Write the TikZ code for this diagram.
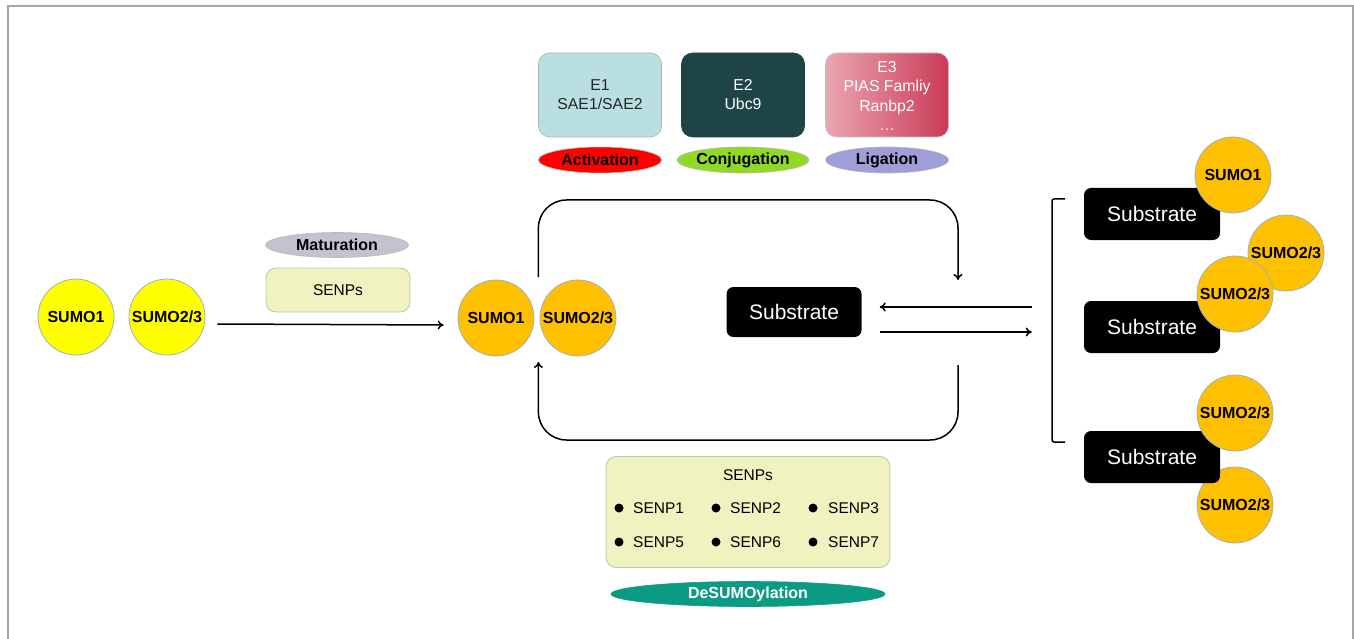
\documentclass[tikz,border=0pt]{standalone}
\usepackage{fontspec}
\setmainfont{Liberation Sans}
\usetikzlibrary{arrows.meta,shapes.geometric,calc}
\definecolor{sumoY}{HTML}{FFFF00}
\definecolor{sumoO}{HTML}{FFC000}
\definecolor{edgeC}{HTML}{9DB1C6}
\definecolor{frameC}{HTML}{A6A6A6}
\definecolor{eone}{HTML}{B9DFE2}
\definecolor{etwo}{HTML}{1E4447}
\definecolor{ethreeL}{HTML}{EAA6B1}
\definecolor{ethreeR}{HTML}{CB3A57}
\definecolor{actC}{HTML}{FF0000}
\definecolor{conjC}{HTML}{92D925}
\definecolor{ligC}{HTML}{A09ED8}
\definecolor{matC}{HTML}{C3C3CF}
\definecolor{senpC}{HTML}{F0F3C0}
\definecolor{senpE}{HTML}{B9C9A6}
\definecolor{desC}{HTML}{0B9A82}
\begin{document}
\begin{tikzpicture}[x=1pt,y=-1pt,
  ysumo/.style={circle, fill=sumoY, draw=edgeC, line width=0.8pt, minimum size=76pt, inner sep=0pt, font=\fontsize{16}{18}\selectfont\bfseries},
  osumo/.style={ysumo, fill=sumoO},
  subbox/.style={rectangle, rounded corners=7pt, fill=black, text=white, minimum width=136pt, minimum height=52pt, inner sep=0pt, font=\fontsize{21}{24}\selectfont},
  ebox/.style={rectangle, rounded corners=11pt, minimum width=123pt, minimum height=84pt, inner sep=0pt, draw=gray!60, line width=0.6pt, align=center, font=\fontsize{15.8}{19}\selectfont},
  tag/.style={ellipse, minimum width=123pt, minimum height=26pt, inner sep=0pt, draw=gray!55, line width=0.6pt, font=\fontsize{16}{18}\selectfont\bfseries},
  senpbox/.style={rectangle, rounded corners=10pt, fill=senpC, draw=senpE, line width=0.8pt, inner sep=0pt},
  lbl/.style={font=\fontsize{15.5}{18}\selectfont, inner sep=0pt, anchor=west},
  bul/.style={circle, fill=black, minimum size=9pt, inner sep=0pt},
  arr/.style={line width=1.5pt, -{To[length=6pt,width=9pt]}},
  loopline/.style={line width=1.5pt, rounded corners=28pt}
]
\useasboundingbox (0,0) rectangle (1354,639);
% frame
\draw[frameC, line width=1.5pt] (8,639) -- (8,6) -- (1353,6) -- (1353,639);

% left yellow SUMO
\node[ysumo] (ys1) at (76,317) {SUMO1};
\node[ysumo] (ys2) at (167,317) {SUMO2/3};

% maturation
\node[tag, fill=matC, minimum width=143pt, minimum height=25pt] (mat) at (337,245) {Maturation};
\node[senpbox, minimum width=144pt, minimum height=44pt, font=\fontsize{15.5}{17}\selectfont] (msenp) at (338,290) {SENPs};

% orange SUMO
\node[osumo] (os1) at (496,318) {SUMO1};
\node[osumo] (os2) at (578,318) {SUMO2/3};

\draw[arr] ($(ys2.east)+(12,7)$) -- ($(os1.west)+(-14,7)$);

% E boxes
\node[ebox, fill=eone, text=black!85] (e1) at (600,95) {E1\\SAE1/SAE2};
\node[ebox, fill=etwo, draw=etwo, text=white] (e2) at (743,95) {E2\\Ubc9};
\node[ebox, left color=ethreeL, right color=ethreeR, draw=gray!50] (e3) at (887,95) {};
\node[align=center, text=white, font=\fontsize{15.8}{19.5}\selectfont, inner sep=0pt] (e3t) at (887,96) {E3\\PIAS Famliy\\Ranbp2\\\textcolor{white!75!ethreeL}{\dots}};

\node[tag, fill=actC] (act) at (600,160) {Activation};
\node[tag, fill=conjC] (conj) at (743,160) {Conjugation};
\node[tag, fill=ligC] (lig) at (887,160) {Ligation};

% central substrate
\node[subbox, minimum width=135pt, minimum height=50pt] (sub) at (794,312) {Substrate};

% loop
\draw[loopline, arr] ($(os1.east)+(4,-41)$) |- (958,200) -- (958,280);
\draw[loopline, arr] (958,365) -- (958,440) -| ($(os1.east)+(4,44)$);

% exchange arrows
\draw[arr] ($(sub.east)+(170,-5)$) -- ($(sub.east)+(18,-5)$);
\draw[arr] ($(sub.east)+(18,20)$) -- ($(sub.east)+(170,20)$);

% bracket
\draw[line width=1.5pt, rounded corners=2pt] (1065,199) -- (1052,199) -- (1052,442) -- (1065,442);

% right substrates
\node[subbox] (s1) at (1152,214) {Substrate};
\node[subbox] (s2) at (1152,327) {Substrate};
\node[osumo] (r1) at (1233,175) {SUMO1};
\node[osumo] (r2) at (1286,253) {SUMO2/3};
\node[osumo] (r3) at (1235,294) {SUMO2/3};
\node[osumo] (r5) at (1235,505) {SUMO2/3};
\node[subbox] (s3) at (1152,457) {Substrate};
\node[osumo] (r4) at (1235,413) {SUMO2/3};

% bottom SENPs
\node[senpbox, minimum width=284pt, minimum height=111pt] (bsenp) at (748,512) {};
\node[font=\fontsize{15.5}{17}\selectfont, inner sep=0pt] (bt) at (748,475) {SENPs};
\node[bul] (b1) at (619,508) {};
\node[lbl] (t1) at (633,508) {SENP1};
\node[bul] (b2) at (716,508) {};
\node[lbl] (t2) at (730,508) {SENP2};
\node[bul] (b3) at (813,508) {};
\node[lbl] (t3) at (828,508) {SENP3};
\node[bul] (b4) at (619,542) {};
\node[lbl] (t4) at (633,542) {SENP5};
\node[bul] (b5) at (716,542) {};
\node[lbl] (t5) at (730,542) {SENP6};
\node[bul] (b6) at (813,542) {};
\node[lbl] (t6) at (828,542) {SENP7};

\node[tag, fill=desC, draw=desC, text=white, minimum width=274pt, minimum height=25pt, font=\fontsize{16}{18}\selectfont\bfseries] (des) at (748,594) {DeSUMOylation};
\end{tikzpicture}
\end{document}
